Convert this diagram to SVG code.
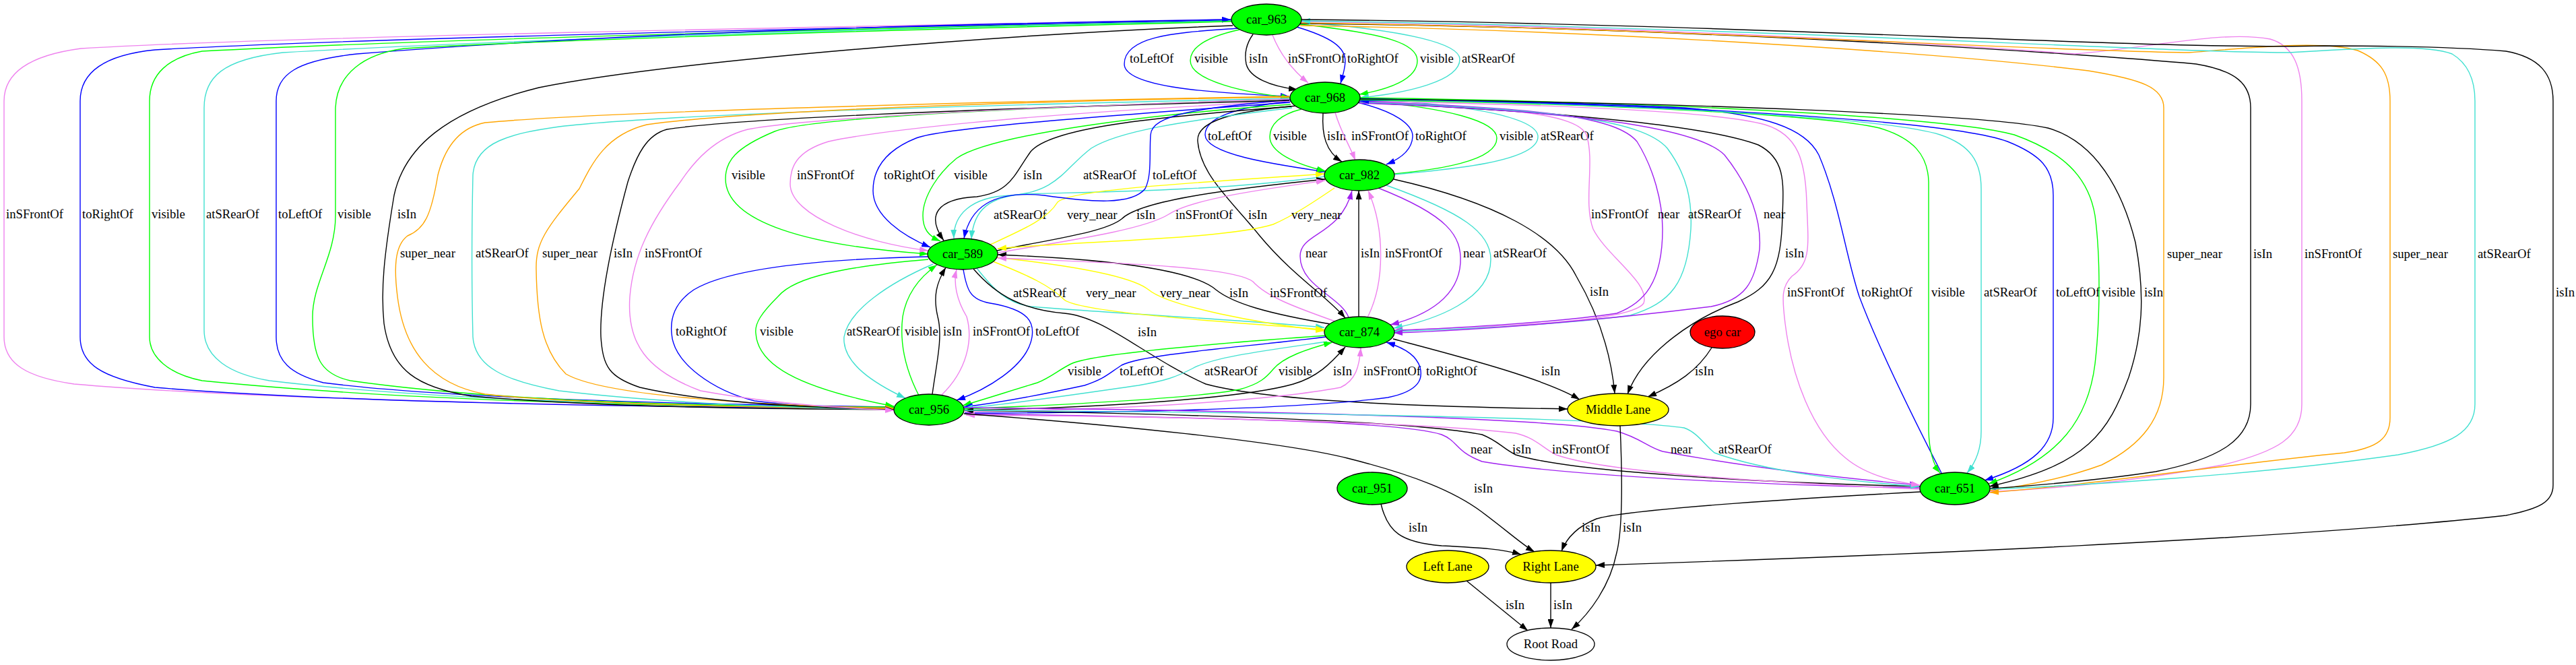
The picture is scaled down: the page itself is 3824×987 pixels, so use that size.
<svg xmlns="http://www.w3.org/2000/svg" width="3824" height="987" viewBox="0 0 3824 987">
<style>
.e{fill:none;stroke-width:1.4}
.bl{stroke:#0000ff;marker-end:url(#m-bl)}
.gr{stroke:#00ff00;marker-end:url(#m-gr)}
.bk{stroke:#000000;marker-end:url(#m-bk)}
.vi{stroke:#ee82ee;marker-end:url(#m-vi)}
.tq{stroke:#40e0d0;marker-end:url(#m-tq)}
.or{stroke:#ffa500;marker-end:url(#m-or)}
.ye{stroke:#ffff00;marker-end:url(#m-ye)}
.pu{stroke:#a020f0;marker-end:url(#m-pu)}
.t{font-family:"Liberation Serif","Times New Roman",serif;font-size:18.67px;fill:#000}
.n{font-family:"Liberation Serif","Times New Roman",serif;font-size:18.67px;fill:#000;text-anchor:middle}
.nd{stroke:#000;stroke-width:1.33}
.car{fill:#00ff00}
.lane{fill:#ffff00}
.ego{fill:#ff0000}
.road{fill:#ffffff}
</style>
<defs>
<marker id="m-bl" viewBox="0 0 13 9" refX="13" refY="4.5" markerWidth="13" markerHeight="9" markerUnits="userSpaceOnUse" orient="auto"><path d="M0,0L13,4.5L0,9z" fill="#0000ff"/></marker>
<marker id="m-gr" viewBox="0 0 13 9" refX="13" refY="4.5" markerWidth="13" markerHeight="9" markerUnits="userSpaceOnUse" orient="auto"><path d="M0,0L13,4.5L0,9z" fill="#00ff00"/></marker>
<marker id="m-bk" viewBox="0 0 13 9" refX="13" refY="4.5" markerWidth="13" markerHeight="9" markerUnits="userSpaceOnUse" orient="auto"><path d="M0,0L13,4.5L0,9z" fill="#000000"/></marker>
<marker id="m-vi" viewBox="0 0 13 9" refX="13" refY="4.5" markerWidth="13" markerHeight="9" markerUnits="userSpaceOnUse" orient="auto"><path d="M0,0L13,4.5L0,9z" fill="#ee82ee"/></marker>
<marker id="m-tq" viewBox="0 0 13 9" refX="13" refY="4.5" markerWidth="13" markerHeight="9" markerUnits="userSpaceOnUse" orient="auto"><path d="M0,0L13,4.5L0,9z" fill="#40e0d0"/></marker>
<marker id="m-or" viewBox="0 0 13 9" refX="13" refY="4.5" markerWidth="13" markerHeight="9" markerUnits="userSpaceOnUse" orient="auto"><path d="M0,0L13,4.5L0,9z" fill="#ffa500"/></marker>
<marker id="m-ye" viewBox="0 0 13 9" refX="13" refY="4.5" markerWidth="13" markerHeight="9" markerUnits="userSpaceOnUse" orient="auto"><path d="M0,0L13,4.5L0,9z" fill="#ffff00"/></marker>
<marker id="m-pu" viewBox="0 0 13 9" refX="13" refY="4.5" markerWidth="13" markerHeight="9" markerUnits="userSpaceOnUse" orient="auto"><path d="M0,0L13,4.5L0,9z" fill="#a020f0"/></marker>
</defs>
<rect width="3824" height="987" fill="#ffffff"/>
<g id="connectors">
<!-- car_963 -> car_968 -->
<path class="e bl" d="M1838,42 C1760,48 1669,50 1669,95 C1669,130 1800,138 1914,143"/>
<text class="t" x="1677" y="93">toLeftOf</text>
<path class="e gr" d="M1840,44 C1790,55 1767,70 1767,90 C1767,120 1850,138 1915,145"/>
<text class="t" x="1773" y="93">visible</text>
<path class="e bk" d="M1860,51 C1850,65 1847,80 1850,95 C1855,115 1885,128 1926,133"/>
<text class="t" x="1854" y="93">isIn</text>
<path class="e vi" d="M1889,52 C1900,80 1920,105 1942,123"/>
<text class="t" x="1912" y="93">inSFrontOf</text>
<path class="e bl" d="M1925,40 C1975,55 1998,70 1997,92 C1996,105 1993,113 1990,124"/>
<text class="t" x="2000" y="93">toRightOf</text>
<path class="e gr" d="M1930,36 C2060,50 2104,65 2104,90 C2104,118 2060,133 2018,140"/>
<text class="t" x="2108" y="93">visible</text>
<path class="e tq" d="M1932,33 C2090,45 2167,65 2167,88 C2167,120 2090,138 2019,145"/>
<text class="t" x="2170" y="93">atSRearOf</text>
<!-- car_968 <-> car_982 -->
<path class="e bl" d="M1917,150 C1830,160 1789,175 1789,200 C1789,230 1900,245 1967,255"/>
<text class="t" x="1793" y="208">toLeftOf</text>
<path class="e gr" d="M1932,162 C1900,170 1885,185 1885,203 C1885,225 1920,243 1968,254"/>
<text class="t" x="1890" y="208">visible</text>
<path class="e bk" d="M1964,168 C1962,200 1968,225 1992,240"/>
<text class="t" x="1970" y="208">isIn</text>
<path class="e vi" d="M1982,167 C1990,195 2003,215 2012,238"/>
<text class="t" x="2006" y="208">inSFrontOf</text>
<path class="e bl" d="M2015,152 C2070,165 2098,185 2097,203 C2096,222 2080,235 2058,244"/>
<text class="t" x="2101" y="208">toRightOf</text>
<path class="e gr" d="M2070,258 C2130,252 2222,240 2222,205 C2222,180 2150,160 2019,149"/>
<text class="t" x="2226" y="208">visible</text>
<path class="e tq" d="M2070,259 C2150,252 2283,240 2283,203 C2283,178 2200,155 2019,147"/>
<text class="t" x="2287" y="208">atSRearOf</text>
<!-- car_982 <-> car_874 -->
<path class="e pu" d="M2002,471 C1990,440 1930,425 1930,380 C1930,345 1990,350 2007,283"/>
<text class="t" x="1938" y="382">near</text>
<path class="e bk" d="M2017,470 L2017,283"/>
<text class="t" x="2020" y="382">isIn</text>
<path class="e vi" d="M2030,471 C2056,420 2056,340 2031,283"/>
<text class="t" x="2056" y="382">inSFrontOf</text>
<path class="e pu" d="M2046,279 C2150,320 2170,350 2168,390 C2165,440 2120,468 2064,482"/>
<text class="t" x="2172" y="382">near</text>
<path class="e tq" d="M2058,275 C2170,315 2213,345 2213,385 C2213,445 2130,475 2069,487"/>
<text class="t" x="2217" y="382">atSRearOf</text>
<!-- car_982 -> Middle Lane -->
<path class="e bk" d="M2069,266 C2220,300 2310,350 2340,410 C2375,470 2392,530 2397,584"/>
<text class="t" x="2360" y="439">isIn</text>
<!-- car_968 -> Middle Lane -->
<path class="e bk" d="M2017,152 C2300,165 2530,185 2610,215 C2650,235 2648,270 2646,320 C2644,400 2630,425 2580,448 C2520,470 2440,520 2416,585"/>
<text class="t" x="2650" y="382">isIn</text>
<!-- car_968 -> car_874 -->
<path class="e vi" d="M2018,150 C2250,160 2340,170 2355,200 C2368,240 2350,300 2365,340 C2385,380 2450,420 2440,450 C2420,480 2200,485 2069,490"/>
<text class="t" x="2362" y="324">inSFrontOf</text>
<path class="e pu" d="M2018,151 C2300,160 2400,175 2430,210 C2455,250 2468,300 2468,340 C2468,420 2440,450 2400,465 C2300,480 2150,487 2069,491"/>
<text class="t" x="2461" y="324">near</text>
<path class="e tq" d="M2018,152 C2320,162 2440,180 2475,220 C2505,260 2512,300 2510,340 C2505,420 2480,450 2420,468 C2300,484 2150,489 2069,492"/>
<text class="t" x="2506" y="324">atSRearOf</text>
<path class="e pu" d="M2018,153 C2350,165 2520,190 2560,230 C2600,280 2615,330 2612,370 C2605,420 2590,445 2540,455 C2380,475 2200,490 2069,494"/>
<text class="t" x="2618" y="324">near</text>
<!-- car_968 -> car_874 isIn -->
<path class="e bk" d="M1925,157 C1830,165 1775,180 1778,210 C1782,260 1830,300 1870,350 C1920,410 1970,440 1997,472"/>
<text class="t" x="1853" y="325">isIn</text>
<!-- car_982 <-> car_589 -->
<path class="e tq" d="M1967,262 C1800,285 1600,285 1520,288 C1470,292 1445,310 1442,355"/>
<text class="t" x="1475" y="325">atSRearOf</text>
<path class="e ye" d="M1470,363 C1520,340 1555,325 1570,300 C1590,280 1800,270 1966,258"/>
<text class="t" x="1584" y="325">very_near</text>
<path class="e bk" d="M1480,372 C1560,355 1640,345 1665,325 C1690,300 1800,283 1967,266"/>
<text class="t" x="1687" y="325">isIn</text>
<path class="e vi" d="M1481,375 C1600,355 1700,340 1735,318 C1770,295 1880,280 1967,268"/>
<text class="t" x="1745" y="325">inSFrontOf</text>
<path class="e ye" d="M1981,279 C1950,300 1920,320 1890,333 C1820,355 1600,358 1481,369"/>
<text class="t" x="1917" y="325">very_near</text>
<!-- car_589 <-> car_874 -->
<path class="e tq" d="M1450,398 C1475,430 1495,450 1530,455 C1650,465 1850,475 1966,486"/>
<text class="t" x="1504" y="441">atSRearOf</text>
<path class="e ye" d="M1474,388 C1530,410 1560,425 1580,445 C1605,465 1850,480 1966,489"/>
<text class="t" x="1612" y="441">very_near</text>
<path class="e ye" d="M1479,382 C1600,395 1680,410 1705,430 C1735,455 1870,480 1966,491"/>
<text class="t" x="1722" y="441">very_near</text>
<path class="e bk" d="M1975,481 C1880,465 1830,450 1805,430 C1770,400 1650,385 1481,378"/>
<text class="t" x="1825" y="441">isIn</text>
<path class="e vi" d="M1982,477 C1920,455 1880,440 1860,418 C1830,395 1650,390 1481,383"/>
<text class="t" x="1885" y="441">inSFrontOf</text>
<!-- car_589 -> Middle Lane -->
<path class="e bk" d="M1445,399 C1480,440 1520,460 1580,465 C1640,470 1700,530 1790,570 C1900,600 2200,605 2327,607"/>
<text class="t" x="1689" y="499">isIn</text>
<!-- car_968 <-> car_589 -->
<path class="e gr" d="M1915,147 C1500,160 1200,175 1150,195 C1090,220 1077,240 1077,265 C1077,330 1200,365 1378,377"/>
<text class="t" x="1086" y="266">visible</text>
<path class="e vi" d="M1915,150 C1500,170 1300,195 1230,210 C1180,225 1173,250 1173,273 C1173,320 1280,360 1378,372"/>
<text class="t" x="1183" y="266">inSFrontOf</text>
<path class="e bl" d="M1915,152 C1600,175 1400,190 1360,205 C1310,225 1296,255 1296,283 C1296,320 1340,350 1381,367"/>
<text class="t" x="1312" y="266">toRightOf</text>
<path class="e gr" d="M1916,155 C1700,170 1470,200 1420,235 C1395,255 1370,290 1370,320 C1370,340 1378,350 1396,358"/>
<text class="t" x="1416" y="266">visible</text>
<path class="e bk" d="M1917,158 C1700,175 1560,190 1530,225 C1505,260 1500,285 1450,292 C1390,295 1375,320 1401,357"/>
<text class="t" x="1519" y="266">isIn</text>
<path class="e tq" d="M1918,160 C1750,180 1660,195 1620,220 C1580,250 1570,285 1500,290 C1440,292 1415,320 1416,354"/>
<text class="t" x="1608" y="266">atSRearOf</text>
<path class="e bl" d="M1915,148 C1780,160 1710,170 1708,200 C1706,230 1710,260 1700,280 C1680,305 1620,300 1550,290 C1470,282 1440,310 1431,354"/>
<text class="t" x="1711" y="266">toLeftOf</text>
<!-- car_589 <-> car_956 -->
<path class="e bl" d="M1377,381 C1200,385 1080,400 1030,430 C1000,450 995,475 997,495 C1000,540 1060,580 1120,595 C1200,605 1280,606 1327,606"/>
<text class="t" x="1003" y="498">toRightOf</text>
<path class="e gr" d="M1378,385 C1260,395 1180,410 1155,440 C1130,465 1120,480 1122,495 C1125,540 1180,575 1327,603"/>
<text class="t" x="1128" y="498">visible</text>
<path class="e tq" d="M1385,392 C1320,420 1260,460 1253,500 C1250,540 1300,570 1344,591"/>
<text class="t" x="1257" y="498">atSRearOf</text>
<path class="e gr" d="M1364,587 C1345,550 1335,510 1340,470 C1345,440 1360,415 1391,393"/>
<text class="t" x="1343" y="498">visible</text>
<path class="e bk" d="M1384,585 C1390,540 1400,500 1392,470 C1385,440 1390,420 1404,397"/>
<text class="t" x="1400" y="498">isIn</text>
<path class="e vi" d="M1398,586 C1435,550 1445,505 1435,470 C1420,445 1415,420 1420,400"/>
<text class="t" x="1444" y="498">inSFrontOf</text>
<path class="e bl" d="M1430,400 C1435,430 1440,445 1470,450 C1530,460 1535,480 1532,500 C1525,545 1460,580 1420,594"/>
<text class="t" x="1537" y="498">toLeftOf</text>
<!-- car_956 <-> car_874 -->
<path class="e gr" d="M1968,498 C1800,510 1620,525 1590,540 C1570,550 1560,560 1540,568 C1500,580 1470,590 1429,602"/>
<text class="t" x="1585" y="557">visible</text>
<path class="e bl" d="M1968,500 C1850,515 1700,525 1665,542 C1645,555 1640,562 1610,572 C1550,585 1480,598 1431,604"/>
<text class="t" x="1662" y="557">toLeftOf</text>
<path class="e tq" d="M1970,507 C1880,520 1800,530 1770,547 C1745,560 1730,565 1690,572 C1600,585 1500,600 1431,606"/>
<text class="t" x="1788" y="557">atSRearOf</text>
<path class="e gr" d="M1431,607 C1600,600 1780,590 1840,578 C1870,570 1880,560 1890,548 C1905,530 1940,518 1978,508"/>
<text class="t" x="1898" y="557">visible</text>
<path class="e bk" d="M1432,609 C1650,605 1850,590 1920,570 C1955,560 1975,540 1997,515"/>
<text class="t" x="1979" y="557">isIn</text>
<path class="e vi" d="M1432,611 C1700,608 1900,592 1990,575 C2012,565 2018,545 2020,516"/>
<text class="t" x="2024" y="557">inSFrontOf</text>
<path class="e bl" d="M1432,613 C1700,613 1950,605 2060,590 C2110,580 2112,560 2108,545 C2103,530 2090,518 2058,508"/>
<text class="t" x="2117" y="557">toRightOf</text>
<!-- car_874 / ego car -> Middle Lane -->
<path class="e bk" d="M2068,503 C2150,525 2290,560 2345,593"/>
<text class="t" x="2288" y="557">isIn</text>
<path class="e bk" d="M2541,516 C2520,550 2490,570 2446,589"/>
<text class="t" x="2516" y="557">isIn</text>
<!-- car_956 <-> car_651 -->
<path class="e pu" d="M2849,724 C2700,722 2350,710 2200,685 C2160,670 2165,655 2140,645 C2080,625 1800,620 1432,614"/>
<text class="t" x="2183" y="673">near</text>
<path class="e bk" d="M2850,722 C2600,716 2330,700 2250,675 C2230,665 2225,655 2200,645 C2100,625 1800,615 1432,609"/>
<text class="t" x="2245" y="673">isIn</text>
<path class="e vi" d="M2850,726 C2600,715 2380,700 2310,675 C2290,665 2280,650 2250,643 C2100,625 1700,618 1434,616"/>
<text class="t" x="2304" y="673">inSFrontOf</text>
<path class="e pu" d="M1432,605 C1900,610 2300,620 2400,640 C2435,650 2445,663 2468,670 C2600,695 2760,712 2848,720"/>
<text class="t" x="2480" y="673">near</text>
<path class="e tq" d="M1432,609 C1900,612 2400,620 2500,635 C2520,642 2530,660 2545,672 C2620,700 2750,715 2849,722"/>
<text class="t" x="2551" y="673">atSRearOf</text>
<!-- to Right Lane -->
<path class="e bk" d="M2851,730 C2700,738 2420,755 2370,770 C2340,782 2325,800 2318,818"/>
<text class="t" x="2348" y="789">isIn</text>
<path class="e bk" d="M1431,614 C1650,630 1900,655 2000,680 C2100,705 2160,730 2200,760 C2240,790 2262,810 2278,819"/>
<text class="t" x="2188" y="731">isIn</text>
<path class="e bk" d="M2050,748 C2060,790 2080,805 2140,810 C2200,813 2230,815 2258,823"/>
<text class="t" x="2091" y="789">isIn</text>
<!-- lanes -> Root Road -->
<path class="e bk" d="M2405,632 C2408,700 2410,780 2400,820 C2390,870 2360,910 2333,934"/>
<text class="t" x="2409" y="789">isIn</text>
<path class="e bk" d="M2177,862 L2268,936"/>
<text class="t" x="2235" y="904">isIn</text>
<path class="e bk" d="M2302,865 L2302,932"/>
<text class="t" x="2306" y="904">isIn</text>
<!-- car_963 <-> car_956 -->
<path class="e vi" d="M1828,29 C1200,40 400,55 120,72 C60,80 6,100 6,150 L6,500 C6,540 40,560 110,570 C400,595 1000,605 1327,607"/>
<text class="t" x="9" y="324">inSFrontOf</text>
<path class="e bl" d="M1828,30 C1200,42 500,58 230,74 C150,82 119,110 119,150 L119,500 C119,540 150,560 230,575 C500,598 1000,605 1327,606"/>
<text class="t" x="122" y="324">toRightOf</text>
<path class="e gr" d="M1828,31 C1200,44 600,60 300,76 C250,85 222,110 222,150 L222,500 C222,530 250,555 300,565 C600,595 1000,604 1327,605"/>
<text class="t" x="225" y="324">visible</text>
<path class="e tq" d="M1828,31 C1200,45 700,62 420,78 C330,88 303,115 303,160 L303,490 C303,530 340,555 400,565 C650,595 1000,603 1327,605"/>
<text class="t" x="306" y="324">atSRearOf</text>
<path class="e bl" d="M1327,604 C1000,600 650,590 480,568 C430,555 410,535 410,500 L410,150 C410,110 440,90 530,80 C900,50 1400,35 1827,29"/>
<text class="t" x="413" y="324">toLeftOf</text>
<path class="e gr" d="M1828,32 C1300,45 800,60 600,72 C540,80 500,110 498,160 L498,320 C498,380 464,420 464,470 C464,530 475,555 520,565 C750,598 1100,604 1327,604"/>
<text class="t" x="501" y="324">visible</text>
<path class="e bk" d="M1830,38 C1500,50 1000,90 800,130 C660,165 600,220 585,290 C570,380 565,430 570,480 C580,550 620,575 700,588 C900,605 1150,607 1327,608"/>
<text class="t" x="590" y="324">isIn</text>
<!-- car_968 <-> car_956 -->
<path class="e or" d="M1914,143 C1500,150 900,165 720,182 C680,190 660,220 650,260 C640,320 630,340 605,350 C585,365 585,400 590,440 C600,520 640,570 720,585 C850,600 1150,605 1327,607"/>
<text class="t" x="594" y="382">super_near</text>
<path class="e tq" d="M1914,146 C1500,155 1000,168 830,188 C760,198 705,210 702,260 C700,350 700,420 702,500 C705,545 750,565 830,580 C1000,600 1200,606 1327,608"/>
<text class="t" x="706" y="382">atSRearOf</text>
<path class="e or" d="M1914,144 C1500,150 1100,165 960,185 C900,200 880,240 860,280 C810,340 795,360 796,400 C797,470 805,520 840,555 C900,590 1150,602 1327,606"/>
<text class="t" x="805" y="382">super_near</text>
<path class="e bk" d="M1914,149 C1500,160 1100,175 990,192 C960,200 945,230 932,270 C905,370 890,450 892,500 C895,545 905,560 950,575 C1050,598 1200,605 1327,608"/>
<text class="t" x="911" y="382">isIn</text>
<path class="e vi" d="M1914,147 C1500,160 1200,175 1110,192 C1060,205 1030,240 1010,270 C965,330 940,380 935,440 C930,510 960,550 1040,580 C1150,600 1250,606 1327,609"/>
<text class="t" x="957" y="382">inSFrontOf</text>
<!-- car_968 <-> car_651 -->
<path class="e vi" d="M2019,150 C2300,155 2550,165 2620,185 C2670,200 2680,240 2682,300 C2684,360 2690,390 2660,410 C2645,425 2645,440 2650,480 C2660,560 2690,640 2740,680 C2770,705 2810,715 2850,720"/>
<text class="t" x="2653" y="440">inSFrontOf</text>
<path class="e bl" d="M2882,702 C2840,620 2790,520 2760,440 C2740,380 2730,300 2700,230 C2680,190 2620,170 2500,160 C2300,150 2100,148 2019,150"/>
<text class="t" x="2763" y="440">toRightOf</text>
<path class="e gr" d="M2019,148 C2400,155 2700,170 2790,190 C2840,205 2862,230 2863,270 L2863,640 C2864,670 2870,690 2880,702"/>
<text class="t" x="2867" y="440">visible</text>
<path class="e tq" d="M2019,147 C2450,155 2800,175 2880,200 C2925,215 2941,240 2941,280 L2941,640 C2941,670 2930,690 2920,702"/>
<text class="t" x="2945" y="440">atSRearOf</text>
<path class="e bl" d="M2019,146 C2500,155 2900,180 2980,210 C3030,230 3048,250 3048,290 L3048,620 C3048,660 3020,690 2946,713"/>
<text class="t" x="3052" y="440">toLeftOf</text>
<path class="e gr" d="M2019,145 C2500,152 2900,175 2990,200 C3060,225 3100,260 3110,320 C3118,380 3118,470 3110,540 C3100,620 3060,680 2952,718"/>
<text class="t" x="3120" y="440">visible</text>
<path class="e bk" d="M2019,147 C2500,152 2950,170 3040,190 C3110,210 3150,280 3170,360 C3185,440 3180,500 3160,560 C3130,640 3100,690 2953,722"/>
<text class="t" x="3183" y="440">isIn</text>
<!-- car_963 <-> car_651 -->
<path class="e or" d="M1930,38 C2400,45 2900,80 3100,105 C3180,118 3212,130 3212,160 L3212,560 C3212,620 3180,660 3120,690 C3060,712 3000,722 2954,728"/>
<text class="t" x="3217" y="383">super_near</text>
<path class="e bk" d="M1930,35 C2500,40 3100,80 3260,95 C3320,105 3341,125 3341,160 L3341,600 C3341,650 3300,680 3200,700 C3100,715 3000,722 2954,725"/>
<text class="t" x="3345" y="383">isIn</text>
<path class="e vi" d="M1931,32 C2500,40 2950,70 3080,80 C3200,70 3300,45 3370,58 C3405,68 3417,100 3417,150 L3417,600 C3417,650 3380,670 3300,690 C3150,718 3030,726 2954,730"/>
<text class="t" x="3421" y="383">inSFrontOf</text>
<path class="e or" d="M1931,34 C2500,42 3000,75 3250,78 C3350,70 3450,60 3500,75 C3535,90 3548,110 3548,150 L3548,620 C3548,650 3530,665 3480,672 C3300,690 3100,720 2954,731"/>
<text class="t" x="3552" y="383">super_near</text>
<path class="e tq" d="M2954,726 C3100,720 3350,705 3560,675 C3640,660 3674,640 3674,600 L3674,150 C3674,120 3665,95 3640,80 C3600,65 3500,72 3400,78 C3200,78 2600,40 1932,31"/>
<text class="t" x="3678" y="383">atSRearOf</text>
<!-- car_963 -> Right Lane -->
<path class="e bk" d="M1931,29 C2600,35 3200,75 3450,68 C3550,68 3650,70 3720,76 C3770,85 3790,110 3790,150 L3790,720 C3790,745 3770,755 3720,765 C3400,800 2800,825 2369,839"/>
<text class="t" x="3794" y="440">isIn</text>
</g>
<g id="car_963" class="nd"><ellipse class="car" cx="1880" cy="29" rx="52" ry="23"/></g>
<text class="n" x="1880" y="35">car_963</text>
<g id="car_968" class="nd"><ellipse class="car" cx="1967" cy="145" rx="52" ry="23"/></g>
<text class="n" x="1967" y="151">car_968</text>
<g id="car_982" class="nd"><ellipse class="car" cx="2018" cy="260" rx="52" ry="23"/></g>
<text class="n" x="2018" y="266">car_982</text>
<g id="car_589" class="nd"><ellipse class="car" cx="1429" cy="377" rx="52" ry="23"/></g>
<text class="n" x="1429" y="383">car_589</text>
<g id="car_874" class="nd"><ellipse class="car" cx="2018" cy="493" rx="52" ry="23"/></g>
<text class="n" x="2018" y="499">car_874</text>
<g id="car_956" class="nd"><ellipse class="car" cx="1379" cy="608" rx="52" ry="23"/></g>
<text class="n" x="1379" y="614">car_956</text>
<g id="middle_lane" class="nd"><ellipse class="lane" cx="2402" cy="608" rx="75" ry="24"/></g>
<text class="n" x="2402" y="614">Middle Lane</text>
<g id="ego_car" class="nd"><ellipse class="ego" cx="2557" cy="493" rx="48" ry="24"/></g>
<text class="n" x="2557" y="499">ego car</text>
<g id="car_651" class="nd"><ellipse class="car" cx="2902" cy="725" rx="52" ry="24"/></g>
<text class="n" x="2902" y="731">car_651</text>
<g id="car_951" class="nd"><ellipse class="car" cx="2037" cy="725" rx="52" ry="24"/></g>
<text class="n" x="2037" y="731">car_951</text>
<g id="left_lane" class="nd"><ellipse class="lane" cx="2149" cy="841" rx="61" ry="24"/></g>
<text class="n" x="2149" y="847">Left Lane</text>
<g id="right_lane" class="nd"><ellipse class="lane" cx="2302" cy="841" rx="67" ry="24"/></g>
<text class="n" x="2302" y="847">Right Lane</text>
<g id="root_road" class="nd"><ellipse class="road" cx="2302" cy="956" rx="65" ry="24"/></g>
<text class="n" x="2302" y="962">Root Road</text>
</svg>
